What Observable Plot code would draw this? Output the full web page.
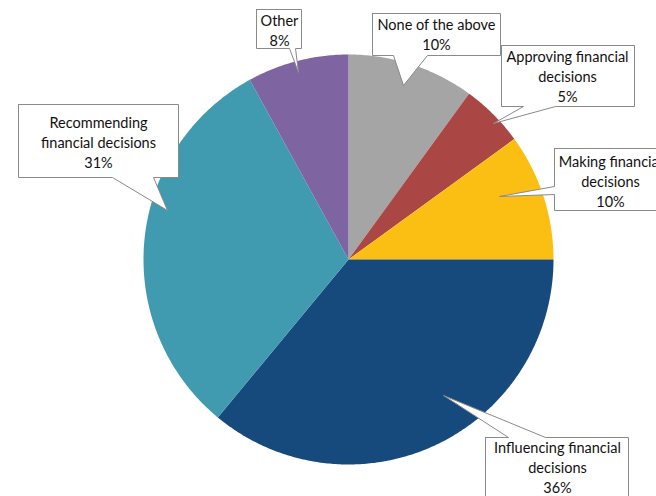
<!DOCTYPE html>
<html>
<head>
<meta charset="utf-8">
<script src="https://cdn.jsdelivr.net/npm/d3@7"></script>
<script src="https://cdn.jsdelivr.net/npm/@observablehq/plot@0.6"></script>
<style>
  html, body { margin: 0; padding: 0; background: #ffffff; }
  #chart svg { display: block; }
</style>
</head>
<body>
<div id="chart"></div>
<script>
// ---- Data ----
const categories = [
  "None of the above",
  "Approving financial decisions",
  "Making financial decisions",
  "Influencing financial decisions",
  "Recommending financial decisions",
  "Other"
];
const values = [10, 5, 10, 36, 31, 8];
const labelLines = [
  ["None of the above"],
  ["Approving financial", "decisions"],
  ["Making financial", "decisions"],
  ["Influencing financial", "decisions"],
  ["Recommending", "financial decisions"],
  ["Other"]
];
const colors = ["#a5a5a5", "#aa4643", "#fbbf14", "#174a7c", "#409bb0", "#7e64a1"];

// ---- Layout (pixels) ----
const W = 656, H = 496;
const cx = 348, cy = 259, R = 205;
// callout boxes: [x0, y0, x1, y1], pointer edge, pointer base [b1, b2], tip [x, y], text centre [x, y]
const calloutBox = [
  [372, 13, 500, 55],
  [501, 45, 634, 106],
  [554, 148, 668, 210],
  [485, 437, 628, 510],
  [18, 104, 178, 177],
  [256, 9, 301, 48]
];
const calloutEdge = ["bottom", "bottom", "left", "top", "bottom", "bottom"];
const calloutBase = [[393, 427], [523, 555], [186, 194], [508, 545], [112, 153], [289, 295]];
const calloutTip = [[403, 85], [493, 123], [499, 196], [443, 395], [167, 210], [298, 72]];
const textCenter = [[436, 33], [567, 75], [610, 180], [557, 466], [98, 141], [279, 29]];

// ---- Build slice polygons ----
const total = d3.sum(values);
const pie = d3.pie().sort(null).value(d => d).startAngle(0).endAngle(2 * Math.PI)(values);
const slicePts = [];
pie.forEach((p, i) => {
  const n = Math.max(4, Math.ceil((p.endAngle - p.startAngle) / 0.01));
  slicePts.push({x: cx, y: cy, k: i});
  for (let j = 0; j <= n; j++) {
    const a = p.startAngle + (p.endAngle - p.startAngle) * j / n;
    slicePts.push({x: cx + R * Math.sin(a), y: cy - R * Math.cos(a), k: i});
  }
  slicePts.push({x: cx, y: cy, k: i});
});

// ---- Build callout polygons ----
const calloutPts = [];
categories.forEach((c, i) => {
  const [x0, y0, x1, y1] = calloutBox[i];
  const [b1, b2] = calloutBase[i];
  const [tx, ty] = calloutTip[i];
  let pts;
  const e = calloutEdge[i];
  if (e === "bottom") {
    pts = [[x0, y0], [x1, y0], [x1, y1], [b2, y1], [tx, ty], [b1, y1], [x0, y1], [x0, y0]];
  } else if (e === "top") {
    pts = [[x0, y0], [b1, y0], [tx, ty], [b2, y0], [x1, y0], [x1, y1], [x0, y1], [x0, y0]];
  } else { // left
    pts = [[x0, y0], [x1, y0], [x1, y1], [x0, y1], [x0, b2], [tx, ty], [x0, b1], [x0, y0]];
  }
  pts.forEach(([x, y]) => calloutPts.push({x, y, k: i}));
});

const labels = categories.map((c, i) => ({
  x: textCenter[i][0],
  y: textCenter[i][1],
  text: labelLines[i].join("\n") + "\n" + d3.format(".0f")(values[i] / total * 100) + "%"
}));

const chart = Plot.plot({
  width: W,
  height: H,
  margin: 0,
  x: {domain: [0, W], range: [0, W], axis: null},
  y: {domain: [0, H], range: [0, H], axis: null},
  style: {fontFamily: "Lato, sans-serif", background: "#ffffff"},
  marks: [
    Plot.line(slicePts, {x: "x", y: "y", z: "k", fill: d => colors[d.k], stroke: "none", curve: "linear"}),
    Plot.line(calloutPts, {x: "x", y: "y", z: "k", fill: "#ffffff", stroke: "#8a8a8a", strokeWidth: 1, curve: "linear", strokeLinejoin: "miter"}),
    Plot.text(labels, {x: "x", y: "y", text: "text", fontSize: 14.5, lineHeight: 1.38, fill: "#111111", textAnchor: "middle"})
  ]
});
document.getElementById("chart").appendChild(chart);
</script>
</body>
</html>
